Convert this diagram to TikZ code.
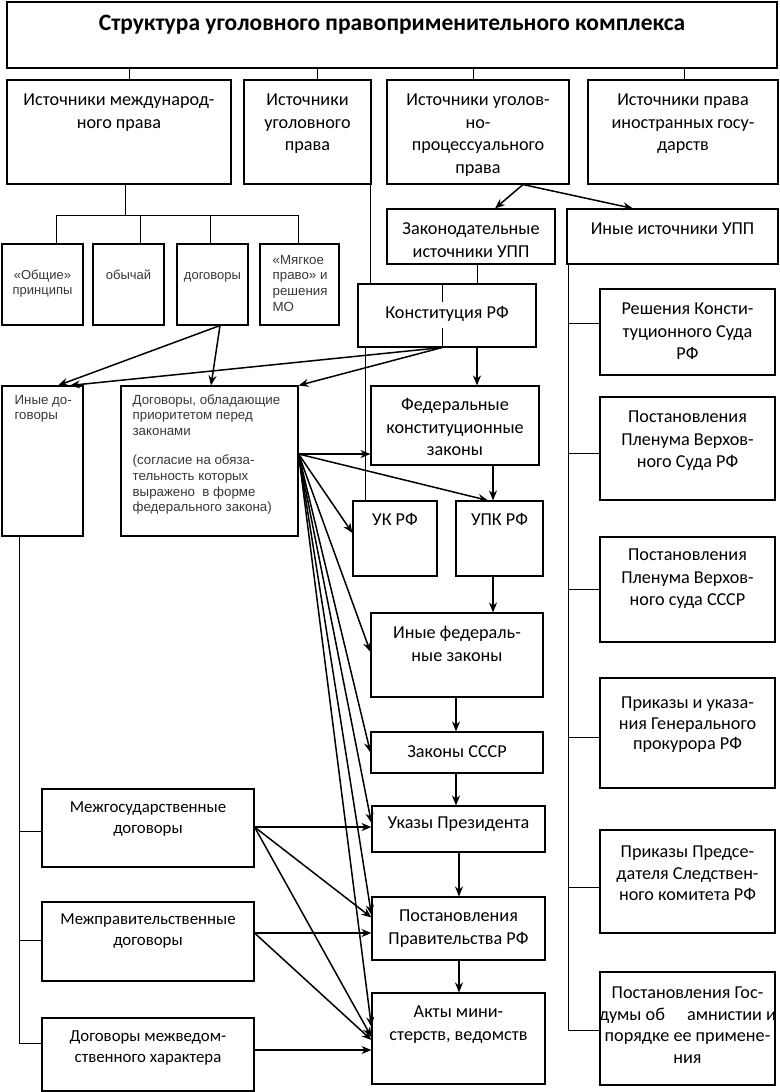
\documentclass[tikz,border=0pt]{standalone}
\usepackage{fontspec}
\setmainfont{Carlito}
\newfontfamily\arialf{Liberation Sans}
\usetikzlibrary{arrows.meta,fit}
\tikzset{
 bx/.style={draw, line width=1.1pt, fill=white, inner sep=0pt},
 tx/.style={font=\fontsize{18.2}{22.5}\selectfont, align=center, anchor=north, inner sep=0pt},
 txs/.style={font=\fontsize{16.8}{20.5}\selectfont, align=center, anchor=north, inner sep=0pt},
 ta/.style={text=black!78, font=\arialf\fontsize{13}{15.3}\selectfont, align=center, anchor=north, inner sep=0pt},
 tal/.style={text=black!78, font=\arialf\fontsize{13.3}{15.8}\selectfont, align=left, anchor=north west, inner sep=0pt},
 ln/.style={line width=1pt},
 arr/.style={line width=1.5pt, -{Stealth[length=10pt,width=8pt]}},
}
\newcommand\sr{\rule{0pt}{15pt}}
\newcommand\mkbox[5]{\node[bx, fit={(#2,#3) (#4,#5)}] (#1) {};}
\begin{document}
\begin{tikzpicture}[x=1pt,y=-1pt]
\useasboundingbox (0,0) rectangle (779,1092);
% boxes
\mkbox{T}{7}{2}{777}{68}
\mkbox{A}{7}{80}{231}{184}
\mkbox{B}{244}{80}{371}{184}
\mkbox{C}{387}{80}{569}{184}
\mkbox{D}{588}{80}{778}{184}
\mkbox{s1}{2}{244}{83}{325}
\mkbox{s2}{93}{244}{164}{325}
\mkbox{s3}{177}{244}{248}{325}
\mkbox{s4}{260}{244}{339}{325}
\mkbox{zak}{387}{209}{555}{264}
\mkbox{ius}{567}{209}{778}{264}
\mkbox{kon}{358}{284}{536}{347}
\mkbox{ido}{2}{386}{83}{536}
\mkbox{dpr}{121}{386}{298}{536}
\mkbox{fkz}{371}{386}{539}{465}
\mkbox{uk}{353}{501}{437}{576}
\mkbox{upk}{456}{501}{543}{576}
\mkbox{ifz}{371}{613}{543}{697}
\mkbox{zs}{371}{732}{543}{773}
\mkbox{ukaz}{372}{806}{545}{852}
\mkbox{ppr}{372}{897}{545}{960}
\mkbox{akty}{372}{993}{545}{1084}
\mkbox{mg}{42}{789}{254}{867}
\mkbox{mp}{42}{902}{254}{981}
\mkbox{mv}{42}{1018}{254}{1091}
\mkbox{r1}{600}{289}{775}{375}
\mkbox{r2}{600}{397}{775}{500}
\mkbox{r3}{600}{537}{775}{642}
\mkbox{r4}{600}{678}{775}{788}
\mkbox{r5}{600}{830}{775}{933}
\mkbox{r6}{600}{972}{775}{1085}
% tree lines
\foreach \n/\s in {A/10,B/9.5,C/-5,D/1}
  \draw[ln] ([xshift=\s pt]\n.north) -- ([xshift=\s pt]\n.north |- T.south);
\coordinate (ibus) at ([xshift=6pt,yshift=-31pt]A.south);
\draw[ln] ([xshift=6pt]A.south) -- (ibus);
\draw[ln] ([xshift=13.5pt]s1.north) -- ([xshift=13.5pt]s1.north |- ibus) -- ([xshift=-1.5pt]s4.north |- ibus) -- ([xshift=-1.5pt]s4.north);
\draw[ln] ([xshift=11.5pt]s2.north) -- ([xshift=11.5pt]s2.north |- ibus);
\draw[ln] ([xshift=-2.5pt]s3.north) -- ([xshift=-2.5pt]s3.north |- ibus);
\draw[ln] ([xshift=-1pt]B.south east) -- ([xshift=-1pt]B.south east |- kon.north);
\draw[ln] ([xshift=13pt]uk.north west) -- ([xshift=13pt]uk.north west |- kon.south);
\draw[ln] ([xshift=6pt]zak.south) -- ([xshift=6pt]zak.south |- kon.north);
\draw[ln] ([xshift=-5pt]kon.north) -- ([xshift=-5pt,yshift=-19pt]kon.north);
\draw[ln] ([xshift=-5pt]kon.south) -- ([xshift=-5pt,yshift=20pt]kon.south);
\coordinate (iv) at ([xshift=2pt]ius.south west);
\draw[ln] (iv) -- ([yshift=-1.5pt]r6.west -| iv) -- ([yshift=-1.5pt]r6.west);
\draw[ln] ([yshift=9pt]r1.west) -- ([yshift=9pt]r1.west -| iv);
\draw[ln] ([yshift=-4.5pt]r2.west) -- ([yshift=-4.5pt]r2.west -| iv);
\draw[ln] (r3.west) -- (r3.west -| iv);
\draw[ln] ([yshift=-4pt]r4.west) -- ([yshift=-4pt]r4.west -| iv);
\draw[ln] ([yshift=-5.5pt]r5.west) -- ([yshift=-5.5pt]r5.west -| iv);
\coordinate (lv) at ([xshift=-23.5pt]ido.south);
\draw[ln] (lv) -- ([yshift=11.5pt]mv.west -| lv) -- ([yshift=11.5pt]mv.west);
\draw[ln] ([yshift=-3pt]mg.west) -- ([yshift=-3pt]mg.west -| lv);
\draw[ln] ([yshift=1.5pt]mp.west) -- ([yshift=1.5pt]mp.west -| lv);
% texts
\node[font=\bfseries\fontsize{23.5}{28}\selectfont, anchor=base, inner sep=0pt] (Tt) at ([yshift=-29pt]T.north) {Структура уголовного правоприменительного комплекса};
\node[tx] (At) at ([yshift=-11pt]A.north) {\sr Источники международ-\\ного права};
\node[tx] (Bt) at ([yshift=-11pt]B.north) {\sr Источники\\уголовного\\права};
\node[tx] (Ct) at ([yshift=-11pt]C.north) {\sr Источники уголов-\\но-\\процессуального\\права};
\node[tx] (Dt) at ([yshift=-11pt]D.north) {\sr Источники права\\иностранных госу-\\дарств};
\node[ta] (s1t) at ([yshift=-20.5pt]s1.north) {\sr «Общие»\\принципы};
\node[ta] (s2t) at ([yshift=-20.5pt]s2.north) {\sr обычай};
\node[ta] (s3t) at ([yshift=-20.5pt]s3.north) {\sr договоры};
\node[tal] (s4t) at ([xshift=13pt,yshift=-5.5pt]s4.north west) {\sr «Мягкое\\право» и\\решения\\МО};
\node[tx] (zakt) at ([yshift=-11pt]zak.north) {\sr Законодательные\\источники УПП};
\node[tx] (iust) at ([yshift=-11pt]ius.north) {\sr Иные источники УПП};
\node[tx] (kont) at ([yshift=-20pt]kon.north) {\sr Конституция РФ};
\node[tal] (idot) at ([xshift=13pt,yshift=-3.5pt]ido.north west) {\sr Иные до-\\говоры};
\node[tal] (dprt) at ([xshift=12pt,yshift=-3.5pt]dpr.north west) {\sr Договоры, обладающие\\приоритетом перед\\законами\\[13pt](согласие на обяза-\\тельность которых\\выражено~ в форме\\федерального закона)};
\node[tx] (fkzt) at ([yshift=-10pt]fkz.north) {\sr Федеральные\\конституционные\\законы};
\node[tx] (ukt) at ([yshift=-10pt]uk.north) {\sr УК РФ};
\node[tx] (upkt) at ([yshift=-10pt]upk.north) {\sr УПК РФ};
\node[tx] (ifzt) at ([yshift=-11pt]ifz.north) {\sr Иные федераль-\\ные законы};
\node[tx] (zst) at ([yshift=-11pt]zs.north) {\sr Законы СССР};
\node[tx] (ukazt) at ([yshift=-8pt]ukaz.north) {\sr Указы Президента};
\node[tx] (pprt) at ([yshift=-10pt]ppr.north) {\sr Постановления\\Правительства РФ};
\node[tx] (aktyt) at ([yshift=-10pt]akty.north) {\sr Акты мини-\\стерств, ведомств};
\node[txs] (mgt) at ([yshift=-9pt]mg.north) {\sr Межгосударственные\\договоры};
\node[txs] (mpt) at ([yshift=-8pt]mp.north) {\sr Межправительственные\\договоры};
\node[txs] (mvt) at ([yshift=-9pt]mv.north) {\sr Договоры межведом-\\ственного характера};
\node[tx] (r1t) at ([yshift=-11pt]r1.north) {\sr Решения Консти-\\туционного Суда\\РФ};
\node[tx] (r2t) at ([yshift=-11pt]r2.north) {\sr Постановления\\Пленума Верхов-\\ного Суда РФ};
\node[tx] (r3t) at ([yshift=-9pt]r3.north) {\sr Постановления\\Пленума Верхов-\\ного суда СССР};
\node[tx, font=\fontsize{18.2}{20.5}\selectfont] (r4t) at ([yshift=-16pt]r4.north) {\sr Приказы и указа-\\ния Генерального\\прокурора РФ};
\node[tx, font=\fontsize{18.2}{21.5}\selectfont] (r5t) at ([yshift=-13pt]r5.north) {\sr Приказы Предсе-\\дателя Следствен-\\ного комитета РФ};
\node[tx, font=\fontsize{18.2}{21.5}\selectfont] (r6t) at ([yshift=-12pt]r6.north) {\sr Постановления Гос-\\\hbox to 177pt{думы об\hfill амнистии и}\\порядке ее примене-\\ния};
% arrows
\draw[arr] ([xshift=45pt]C.south) -- ([xshift=24pt]zak.north);
\draw[arr] ([xshift=45pt]C.south) -- ([xshift=-39.5pt]ius.north);
\draw[arr] ([xshift=7.5pt]s3.south) -- ([xshift=15.5pt]ido.north);
\draw[arr] ([xshift=7.5pt]s3.south) -- ([xshift=1.5pt]dpr.north);
\draw[arr] ([xshift=-5pt]kon.south) -- ([xshift=27.5pt]ido.north);
\draw[arr] ([xshift=-5pt]kon.south) -- (dpr.north east);
\draw[arr] ([xshift=30pt]kon.south) -- ([xshift=30pt]kon.south |- fkz.north);
\draw[arr] ([xshift=-6.5pt]upk.north |- fkz.south) -- ([xshift=-6.5pt]upk.north);
\draw[arr] ([xshift=-6.5pt]upk.south) -- ([xshift=-6.5pt]upk.south |- ifz.north);
\draw[arr] ([xshift=-1pt]ifz.south) -- ([xshift=-1pt]ifz.south |- zs.north);
\draw[arr] ([xshift=-1pt]zs.south) -- ([xshift=-1pt]zs.south |- ukaz.north);
\draw[arr] ([xshift=0.5pt]ukaz.south) -- ([xshift=0.5pt]ukaz.south |- ppr.north);
\draw[arr] ([xshift=0.5pt]ppr.south) -- ([xshift=0.5pt]ppr.south |- akty.north);
\coordinate (F) at ([yshift=7pt]dpr.east);
\draw[arr] (F) -- ([yshift=-28.5pt]fkz.west);
\draw[arr] (F) -- ([xshift=-11.5pt]upk.north);
\draw[arr] (F) -- ([yshift=5.5pt]uk.west);
\draw[arr] (F) -- ([yshift=3pt]ifz.west);
\draw[arr] (F) -- (zs.west);
\draw[arr] (F) -- ([yshift=6pt]ukaz.west);
\draw[arr] (F) -- ([yshift=13.5pt]ppr.west);
\draw[arr] (F) -- ([yshift=11.5pt]akty.west);
\coordinate (mgE) at ([yshift=1pt]mg.east);
\draw[arr] (mgE) -- ([yshift=2pt]ukaz.west);
\draw[arr] (mgE) -- ([yshift=11pt]ppr.west);
\draw[arr] (mgE) -- ([yshift=1.5pt]akty.west);
\coordinate (mpE) at ([yshift=8.5pt]mp.east);
\draw[arr] (mpE) -- ([yshift=-4.5pt]ppr.west);
\draw[arr] (mpE) -- ([yshift=-1.5pt]akty.west);
\coordinate (mvE) at ([yshift=4.5pt]mv.east);
\draw[arr] (mvE) -- ([yshift=-11.5pt]akty.west);
\end{tikzpicture}
\end{document}
